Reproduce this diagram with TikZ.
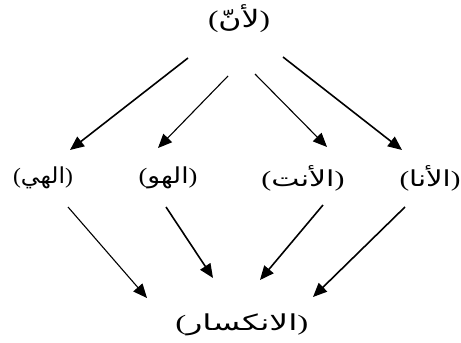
\documentclass[tikz,border=0pt]{standalone}
\usepackage{fontspec}
\usepackage{graphicx}
\setmainfont{Liberation Serif}
\TeXXeTstate=1
\newfontfamily\arabicfont[Script=Arabic]{DejaVu Sans}
\usetikzlibrary{arrows.meta}
\newcommand\arlabel[2]{\resizebox{#1}{\height}{{(}{\arabicfont\beginR #2\endR}{)}}}
\begin{document}
\begin{tikzpicture}[x=1pt,y=-1pt,
  lbl/.style={inner sep=0pt,font=\fontsize{22}{26}\selectfont},
  toplbl/.style={inner sep=0pt,font=\fontsize{24}{28}\selectfont},
  arr/.style={-{Triangle[length=14pt,width=12pt]},line width=1.6pt},
  thinarr/.style={arr,line width=1.1pt}]
\useasboundingbox (0,0) rectangle (461,343);
\node[toplbl] (top) at (239,19) {\arlabel{62pt}{لأنّ}};
\node[lbl] (hi)  at (43,178)  {\arlabel{60pt}{الهي}};
\node[lbl] (hu)  at (168,178) {\arlabel{59pt}{الهو}};
\node[lbl] (ant) at (303,178) {\arlabel{83pt}{الأنت}};
\node[lbl] (ana) at (430,178) {\arlabel{61pt}{الأنا}};
\node[lbl] (bot) at (242,325) {\arlabel{133pt}{الانكسار}};
% arrow end points
\coordinate (a1s) at (188,58);  \coordinate (a1e) at (70,150);
\coordinate (a2s) at (228,76);  \coordinate (a2e) at (158,148);
\coordinate (a3s) at (255,74);  \coordinate (a3e) at (327,147);
\coordinate (a4s) at (283,57);  \coordinate (a4e) at (402,150);
\coordinate (b1s) at (68,207);  \coordinate (b1e) at (147,298);
\coordinate (b2s) at (166,207); \coordinate (b2e) at (213,278);
\coordinate (b3s) at (323,205); \coordinate (b3e) at (260,280);
\coordinate (b4s) at (405,207); \coordinate (b4e) at (313,297);
\draw[arr] (a1s) -- (a1e);
\draw[thinarr] (a2s) -- (a2e);
\draw[thinarr] (a3s) -- (a3e);
\draw[arr] (a4s) -- (a4e);
\draw[thinarr] (b1s) -- (b1e);
\draw[arr] (b2s) -- (b2e);
\draw[arr] (b3s) -- (b3e);
\draw[arr] (b4s) -- (b4e);
\end{tikzpicture}
\end{document}
